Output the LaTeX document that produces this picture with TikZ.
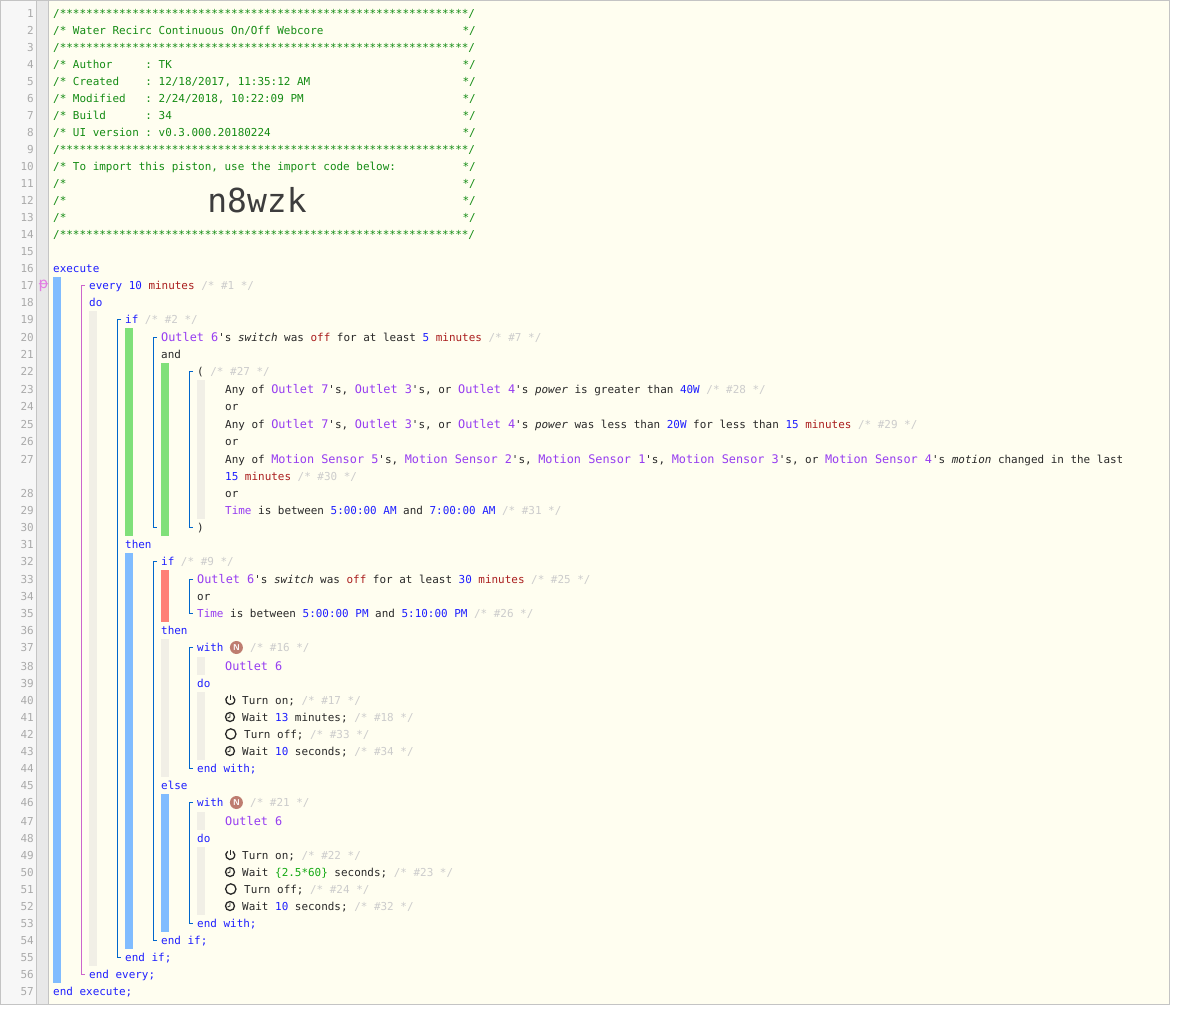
\documentclass[tikz,border=0pt]{standalone}
\usepackage{xcolor}
\usepackage{fontspec}
\setmonofont{DejaVu Sans Mono}[Scale=1]
\newfontfamily\markfont{DejaVu Sans}
\usepackage{tikz}
\usetikzlibrary{positioning, calc}
\definecolor{pgPanel}{RGB}{255,254,240}
\definecolor{pgGutter}{RGB}{247,247,247}
\definecolor{pgFold}{RGB}{232,232,232}
\definecolor{pgBorder}{RGB}{196,196,196}
\definecolor{pgNum}{RGB}{170,170,170}
\definecolor{pgHeader}{RGB}{20,140,20}
\definecolor{pgKey}{RGB}{30,30,255}
\definecolor{pgDev}{RGB}{150,60,240}
\definecolor{pgUnit}{RGB}{170,30,30}
\definecolor{pgNote}{RGB}{204,204,204}
\definecolor{pgText}{RGB}{40,40,40}
\definecolor{pgExpr}{RGB}{20,170,20}
\definecolor{pgBlue}{RGB}{128,188,255}
\definecolor{pgGreen}{RGB}{128,224,122}
\definecolor{pgRed}{RGB}{255,128,118}
\definecolor{pgIdle}{RGB}{241,239,230}
\definecolor{fencePink}{RGB}{204,102,204}
\definecolor{pgMark}{RGB}{226,125,226}
\definecolor{fenceBlue}{RGB}{0,102,204}
\definecolor{pgBadge}{RGB}{190,125,112}
\newcommand{\kw}[1]{\textcolor{pgKey}{#1}}
\newcommand{\dev}[1]{\textcolor{pgDev}{\fontsize{11.86pt}{12pt}\selectfont #1}}
\newcommand{\sys}[1]{\textcolor{pgDev}{#1}}
\newcommand{\unit}[1]{\textcolor{pgUnit}{#1}}
\newcommand{\note}[1]{\textcolor{pgNote}{/* \##1 */}}
\newcommand{\attr}[1]{\textit{#1}}
\newcommand{\hdr}[1]{\makebox[409.4pt][l]{#1}*/}
\tikzset{
	x=1pt, y=-1pt,
	code/.style={anchor=west, inner sep=0pt, text height=9.6pt, text depth=0.4pt, font=\ttfamily\fontsize{10.95pt}{12pt}\selectfont, text=pgText},
	head/.style={code, text=pgHeader},
	linenum/.style={code, anchor=east, text=pgNum},
	fence/.style={line width=1pt, color=fenceBlue},
	pinkfence/.style={line width=1pt, color=fencePink},
	icon/.style={line width=1.3pt, draw=pgText}
}
\begin{document}
\begin{tikzpicture}
	\useasboundingbox (0,0) rectangle (1178,1013);
	% editor panel
	\fill[pgGutter] (1,1) rectangle (36,1004);
	\fill[pgFold] (36,1) rectangle (48.5,1004);
	\fill[pgPanel] (48.5,1) rectangle (1169.5,1004);
	\draw[pgBorder] (36.3,1) -- (36.3,1004);
	\draw[pgBorder] (48.5,1) -- (48.5,1004);
	\draw[pgBorder, line width=1pt] (0.5,0.5) rectangle (1169.5,1004);
	% line numbers
	\foreach \n/\y in {1/13,2/30,3/47,4/64,5/81,6/98,7/115,8/132,9/149,10/166,11/183,12/200,13/217,14/234,15/251,16/268,17/285,18/302,19/319,20/337,21/354,22/371,23/389,24/406,25/424,26/441,27/459,28/493,29/510,30/527,31/544,32/561,33/579,34/596,35/613,36/630,37/647,38/666,39/683,40/700,41/717,42/734,43/751,44/768,45/785,46/802,47/821,48/838,49/855,50/872,51/889,52/906,53/923,54/940,55/957,56/974,57/991}
		\node[linenum] (n\n) at (34,\y) {\n};
	\node[code, text=pgMark, font=\markfont\fontsize{15pt}{15pt}\selectfont] (mark) at (38.5,284) {ᵽ};
	% block bars
	\foreach \x/\a/\b/\c in {53/277/983/pgBlue,89/311/966/pgIdle,125/328/536/pgGreen,125/553/949/pgBlue,161/363/536/pgGreen,197/380/519/pgIdle,161/570/622/pgRed,161/639/777/pgIdle,197/657/675/pgIdle,197/692/760/pgIdle,161/794/932/pgBlue,197/812/830/pgIdle,197/847/915/pgIdle}
		\fill[\c] (\x,\a) rectangle ++(8,\b-\a);
	% header
	\node[head] (l1) at (53,13) {/**************************************************************/};
	\node[head] (l2) at (53,30) {\hdr{/* Water Recirc Continuous On/Off Webcore}};
	\node[head] (l3) at (53,47) {/**************************************************************/};
	\node[head] (l4) at (53,64) {\hdr{/* Author~~~~~: TK}};
	\node[head] (l5) at (53,81) {\hdr{/* Created~~~~: 12/18/2017, 11:35:12 AM}};
	\node[head] (l6) at (53,98) {\hdr{/* Modified~~~: 2/24/2018, 10:22:09 PM}};
	\node[head] (l7) at (53,115) {\hdr{/* Build~~~~~~: 34}};
	\node[head] (l8) at (53,132) {\hdr{/* UI version : v0.3.000.20180224}};
	\node[head] (l9) at (53,149) {/**************************************************************/};
	\node[head] (l10) at (53,166) {\hdr{/* To import this piston, use the import code below:}};
	\node[head] (l11) at (53,183) {\hdr{/*}};
	\node[head] (l12) at (53,200) {\hdr{/*}};
	\node[head] (l13) at (53,217) {\hdr{/*}};
	\node[head] (l14) at (53,234) {/**************************************************************/};
	\node[anchor=center, inner sep=0pt, text=pgText!90!white, font=\ttfamily\fontsize{33pt}{36pt}\selectfont] (pin) at (257,200) {n8wzk};
	% code
	\node[code] (l16) at (53,268) {\kw{execute}};
	\node[code] (l17) at (89,285) {\kw{every 10} \unit{minutes} \note{1}};
	\node[code] (l18) at (89,302) {\kw{do}};
	\node[code] (l19) at (125,319) {\kw{if} \note{2}};
	\node[code] (l20) at (161,337) {\dev{Outlet 6}'s \attr{switch} was \unit{off} for at least \kw{5} \unit{minutes} \note{7}};
	\node[code] (l21) at (161,354) {and};
	\node[code] (l22) at (197,371) {( \note{27}};
	\node[code] (l23) at (225,389) {Any of \dev{Outlet 7}'s, \dev{Outlet 3}'s, or \dev{Outlet 4}'s \attr{power} is greater than \kw{40W} \note{28}};
	\node[code] (l24) at (225,406) {or};
	\node[code] (l25) at (225,424) {Any of \dev{Outlet 7}'s, \dev{Outlet 3}'s, or \dev{Outlet 4}'s \attr{power} was less than \kw{20W} for less than \kw{15} \unit{minutes} \note{29}};
	\node[code] (l26) at (225,441) {or};
	\node[code] (l27) at (225,459) {Any of \dev{Motion Sensor 5}'s, \dev{Motion Sensor 2}'s, \dev{Motion Sensor 1}'s, \dev{Motion Sensor 3}'s, or \dev{Motion Sensor 4}'s \attr{motion} changed in the last};
	\node[code] (l27b) at (225,476) {\kw{15} \unit{minutes} \note{30}};
	\node[code] (l28) at (225,493) {or};
	\node[code] (l29) at (225,510) {\sys{Time} is between \kw{5:00:00 AM} and \kw{7:00:00 AM} \note{31}};
	\node[code] (l30) at (197,527) {)};
	\node[code] (l31) at (125,544) {\kw{then}};
	\node[code] (l32) at (161,561) {\kw{if} \note{9}};
	\node[code] (l33) at (197,579) {\dev{Outlet 6}'s \attr{switch} was \unit{off} for at least \kw{30} \unit{minutes} \note{25}};
	\node[code] (l34) at (197,596) {or};
	\node[code] (l35) at (197,613) {\sys{Time} is between \kw{5:00:00 PM} and \kw{5:10:00 PM} \note{26}};
	\node[code] (l36) at (161,630) {\kw{then}};
	\node[code] (l37) at (197,647) {\kw{with}};
	\node[code] (l37c) at (250,647) {\note{16}};
	\node[code] (l38) at (225,666) {\dev{Outlet 6}};
	\node[code] (l39) at (197,683) {\kw{do}};
	\node[code] (l40) at (242,700) {Turn on; \note{17}};
	\node[code] (l41) at (242,717) {Wait \kw{13} minutes; \note{18}};
	\node[code] (l42) at (244,734) {Turn off; \note{33}};
	\node[code] (l43) at (242,751) {Wait \kw{10} seconds; \note{34}};
	\node[code] (l44) at (197,768) {\kw{end with;}};
	\node[code] (l45) at (161,785) {\kw{else}};
	\node[code] (l46) at (197,802) {\kw{with}};
	\node[code] (l46c) at (250,802) {\note{21}};
	\node[code] (l47) at (225,821) {\dev{Outlet 6}};
	\node[code] (l48) at (197,838) {\kw{do}};
	\node[code] (l49) at (242,855) {Turn on; \note{22}};
	\node[code] (l50) at (242,872) {Wait \textcolor{pgExpr}{\{2.5*60\}} seconds; \note{23}};
	\node[code] (l51) at (244,889) {Turn off; \note{24}};
	\node[code] (l52) at (242,906) {Wait \kw{10} seconds; \note{32}};
	\node[code] (l53) at (197,923) {\kw{end with;}};
	\node[code] (l54) at (161,940) {\kw{end if;}};
	\node[code] (l55) at (125,957) {\kw{end if;}};
	\node[code] (l56) at (89,974) {\kw{end every;}};
	\node[code] (l57) at (53,991) {\kw{end execute;}};
	% nesting fences
	\draw[pinkfence] ([xshift=-4pt]l17.west) -- ++(-3.5,0) |- ([xshift=-4pt]l56.west);
	\draw[fence] ([xshift=-4pt]l19.west) -- ++(-3.5,0) |- ([xshift=-4pt]l55.west);
	\draw[fence] ([xshift=-4pt]l20.west) -- ++(-3.5,0) |- ([xshift=-40pt]l30.west);
	\draw[fence] ([xshift=-4pt]l22.west) -- ++(-3.5,0) |- ([xshift=-4pt]l30.west);
	\draw[fence] ([xshift=-4pt]l32.west) -- ++(-3.5,0) |- ([xshift=-4pt]l54.west);
	\draw[fence] ([xshift=-4pt]l33.west) -- ++(-3.5,0) |- ([xshift=-4pt]l35.west);
	\draw[fence] ([xshift=-4pt]l37.west) -- ++(-3.5,0) |- ([xshift=-4pt]l44.west);
	\draw[fence] ([xshift=-4pt]l46.west) -- ++(-3.5,0) |- ([xshift=-4pt]l53.west);
	% task badges
	\foreach \y/\t in {647.5/a,802.5/b}
		\node[circle, fill=pgBadge, text=white, inner sep=0pt, minimum size=13pt, font=\sffamily\bfseries\fontsize{8.5pt}{8.5pt}\selectfont] (badge\t) at (236.4,\y) {N};
	% task icons
	\foreach \y in {700,855} {
		\draw[icon] (230.3,\y) ++(125:4.5pt) arc[start angle=125, end angle=415, radius=4.5pt];
		\draw[icon] (230.3,\y-5.5) -- (230.3,\y);
	}
	\foreach \y in {717,751,872,906} {
		\draw[icon] (230,\y) circle[radius=4.5pt];
		\draw[draw=pgText, line width=0.9pt] (230,\y-2.8) -- (230,\y) -- (227.6,\y+1);
	}
	\foreach \y in {734,889}
		\draw[icon] (230.8,\y) circle[radius=5.2pt];
\end{tikzpicture}
\end{document}
